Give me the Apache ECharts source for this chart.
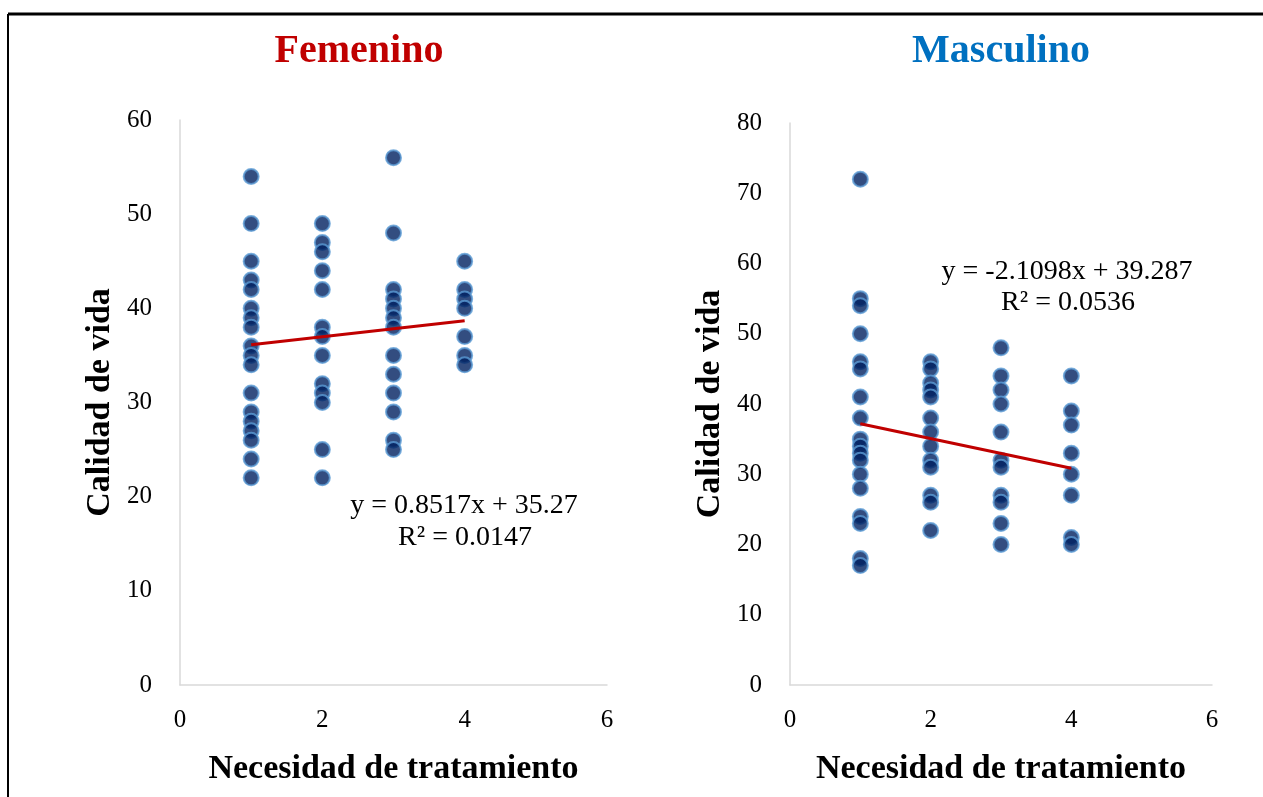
<!DOCTYPE html>
<html>
<head>
<meta charset="utf-8">
<script src="https://cdn.jsdelivr.net/npm/echarts@6/dist/echarts.min.js"></script>
<style>
html,body{margin:0;padding:0;background:#fff;}
#chart{width:1263px;height:797px;}
</style>
</head>
<body>
<div id="chart"></div>
<script>
// ---- Data ----
const titles = ["Femenino", "Masculino"];
const xTitle = "Necesidad de tratamiento";
const yTitle = "Calidad de vida";

// Femenino: values of "Calidad de vida" per "Necesidad de tratamiento" level
const femX1 = [54, 49, 45, 43, 42, 40, 39, 38, 36, 35, 34, 31, 29, 28, 27, 26, 24, 22];
const femX2 = [49, 47, 46, 44, 42, 38, 37, 35, 32, 31, 30, 25, 22];
const femX3 = [56, 48, 42, 41, 40, 39, 38, 35, 33, 31, 29, 26, 25];
const femX4 = [45, 42, 41, 40, 37, 35, 34];

// Masculino
const masX1 = [72, 55, 54, 50, 46, 45, 41, 38, 35, 34, 33, 32, 30, 28, 24, 23, 18, 17];
const masX2 = [46, 45, 43, 42, 41, 38, 36, 34, 32, 31, 27, 26, 22];
const masX3 = [48, 44, 42, 40, 36, 32, 31, 27, 26, 23, 20];
const masX4 = [44, 39, 37, 33, 30, 27, 21, 20];

// Linear trend lines (as shown in the chart's labels)
const femTrend = { slope: 0.8517, intercept: 35.27, r2: "0.0147", xRange: [1, 4] };
const masTrend = { slope: -2.1098, intercept: 39.287, r2: "0.0536", xRange: [1, 4] };

// Axis settings
const xTicks = { min: 0, max: 6, interval: 2 };
const femY = { min: 0, max: 60, interval: 10 };
const masY = { min: 0, max: 80, interval: 10 };

// ---- Build ----
function toPoints(cols) {
  const pts = [];
  cols.forEach((col, i) => col.forEach(v => pts.push([i + 1, v])));
  return pts;
}
function trendPts(t) {
  return t.xRange.map(x => [x, +(t.slope * x + t.intercept).toFixed(4)]);
}
function eqText(t) {
  const s = t.slope < 0 ? "-" + Math.abs(t.slope) : "" + t.slope;
  return "y = " + s + "x + " + t.intercept;
}

const femPts = toPoints([femX1, femX2, femX3, femX4]);
const masPts = toPoints([masX1, masX2, masX3, masX4]);

const serif = "'Liberation Serif', 'Times New Roman', serif";
const axisLineStyle = { color: "#d9d9d9", width: 1.5 };

function xAxis(gridIndex) {
  return {
    gridIndex, type: "value", min: xTicks.min, max: xTicks.max, interval: xTicks.interval,
    splitLine: { show: false }, axisTick: { show: false },
    axisLine: { show: true, lineStyle: axisLineStyle },
    axisLabel: { color: "#000", fontFamily: serif, fontSize: 25, margin: 23 },
    name: xTitle, nameLocation: "middle", nameGap: 67,
    nameTextStyle: { color: "#000", fontFamily: serif, fontWeight: "bold", fontSize: 34 }
  };
}
function yAxis(gridIndex, cfg) {
  return {
    gridIndex, type: "value", min: cfg.min, max: cfg.max, interval: cfg.interval,
    splitLine: { show: false }, axisTick: { show: false },
    axisLine: { show: true, lineStyle: axisLineStyle },
    axisLabel: { color: "#000", fontFamily: serif, fontSize: 25, margin: 28 },
    name: yTitle, nameLocation: "middle", nameGap: 63,
    nameTextStyle: { color: "#000", fontFamily: serif, fontWeight: "bold", fontSize: 34 }
  };
}

const scatterStyle = { color: "#002060", borderColor: "#5b9bd5", borderWidth: 2 };

const eqFont = "28px " + serif;

const option = {
  animation: false,
  backgroundColor: "#fff",
  title: [
    { text: titles[0], left: 354, top: 27, textAlign: "center",
      textStyle: { color: "#c00000", fontFamily: serif, fontWeight: "bold", fontSize: 40 } },
    { text: titles[1], left: 996, top: 27, textAlign: "center",
      textStyle: { color: "#0070c0", fontFamily: serif, fontWeight: "bold", fontSize: 40 } }
  ],
  grid: [
    { left: 180, top: 120, width: 427, height: 565 },
    { left: 790, top: 123, width: 422, height: 562 }
  ],
  xAxis: [xAxis(0), xAxis(1)],
  yAxis: [yAxis(0, femY), yAxis(1, masY)],
  series: [
    { type: "scatter", xAxisIndex: 0, yAxisIndex: 0, data: femPts, symbolSize: 15, itemStyle: scatterStyle, z: 2 },
    { type: "line", xAxisIndex: 0, yAxisIndex: 0, data: trendPts(femTrend), showSymbol: false, symbol: "none",
      lineStyle: { color: "#c00000", width: 3 }, z: 3 },
    { type: "scatter", xAxisIndex: 1, yAxisIndex: 1, data: masPts, symbolSize: 15, itemStyle: scatterStyle, z: 2 },
    { type: "line", xAxisIndex: 1, yAxisIndex: 1, data: trendPts(masTrend), showSymbol: false, symbol: "none",
      lineStyle: { color: "#c00000", width: 3 }, z: 3 }
  ],
  graphic: [
    { type: "line", shape: { x1: 8, y1: 14, x2: 1263, y2: 14 }, style: { stroke: "#000", lineWidth: 3 } },
    { type: "line", shape: { x1: 8, y1: 14, x2: 8, y2: 797 }, style: { stroke: "#000", lineWidth: 2 } },
    { type: "text", x: 464, y: 506, style: { text: eqText(femTrend), font: eqFont, fill: "#000", textAlign: "center", textVerticalAlign: "middle" } },
    { type: "text", x: 465, y: 538, style: { text: "R² = " + femTrend.r2, font: eqFont, fill: "#000", textAlign: "center", textVerticalAlign: "middle" } },
    { type: "text", x: 1067, y: 272, style: { text: eqText(masTrend), font: eqFont, fill: "#000", textAlign: "center", textVerticalAlign: "middle" } },
    { type: "text", x: 1068, y: 303, style: { text: "R² = " + masTrend.r2, font: eqFont, fill: "#000", textAlign: "center", textVerticalAlign: "middle" } }
  ]
};

const chart = echarts.init(document.getElementById("chart"), null, { renderer: "canvas" });
chart.setOption(option);
</script>
</body>
</html>
